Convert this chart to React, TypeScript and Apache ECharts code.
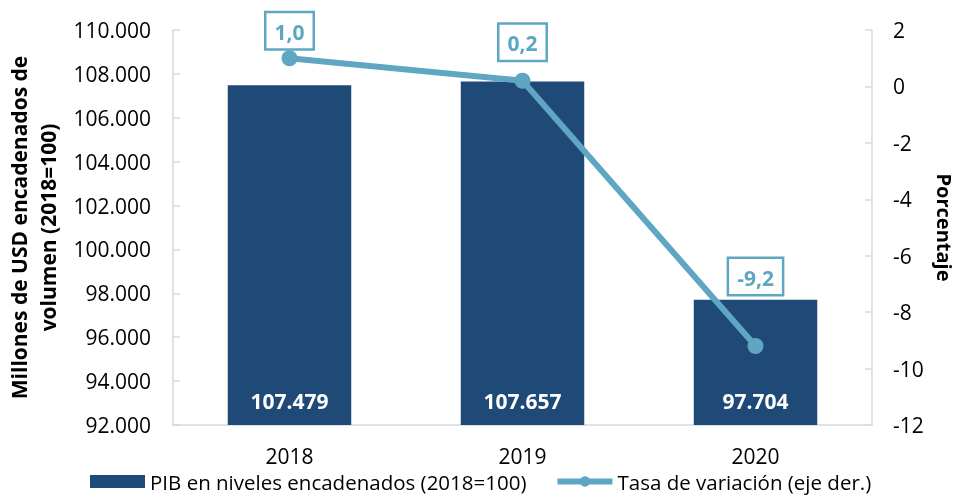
import React, { useEffect, useRef } from "react";
import * as echarts from "echarts";

const years = ["2018", "2019", "2020"];
const pibValues = [107479, 107657, 97704];
const rateValues = [1.0, 0.2, -9.2];
const rateLabelOffsets = [[0, 4], [0, -7], [0, -38]];
const barName = "PIB en niveles encadenados (2018=100)";
const lineName = "Tasa de variación (eje der.)";

const FONT = "'Open Sans', 'Liberation Sans', sans-serif";
const BAR = "#1f4a78";
const LINE = "#5fa6c3";
const AXIS = "#d9d9d9";

const fmtThousands = (v: number) =>
  String(Math.round(v)).replace(/\B(?=(\d{3})+(?!\d))/g, ".");
const fmtDec = (v: number) => v.toFixed(1).replace(".", ",");

export default function App() {
  const ref = useRef<HTMLDivElement>(null);
  useEffect(() => {
    if (!ref.current) return;
    const chart = echarts.init(ref.current, undefined, { renderer: "svg" });
    chart.setOption({
      animation: false,
      textStyle: { fontFamily: FONT },
      grid: {
        left: 173,
        right: 86,
        top: 30,
        bottom: 73,
        containLabel: false,
        outerBoundsMode: "none",
      },
      legend: {
        bottom: 1,
        left: 85,
        itemWidth: 55,
        itemHeight: 13,
        itemGap: 28,
        lineStyle: { width: 6 },
        textStyle: { fontFamily: FONT, fontSize: 20.5, color: "#000" },
        data: [
          { name: barName, icon: "rect" },
          { name: lineName },
        ],
      },
      xAxis: {
        type: "category",
        data: years,
        axisLine: { onZero: false, lineStyle: { color: AXIS, width: 1.5 } },
        axisTick: { inside: true, length: 7, lineStyle: { color: AXIS, width: 1.5 } },
        axisLabel: { color: "#000", fontSize: 21, margin: 20, fontFamily: FONT },
      },
      yAxis: [
        {
          type: "value",
          min: 92000,
          max: 110000,
          interval: 2000,
          name: "Millones de USD encadenados de\nvolumen (2018=100)",
          nameLocation: "middle",
          nameGap: 110,
          nameTextStyle: {
            fontFamily: FONT,
            fontSize: 21,
            fontWeight: "bold",
            color: "#000",
            lineHeight: 29,
          },
          splitLine: { show: false },
          axisLine: { show: true, lineStyle: { color: AXIS, width: 1.5 } },
          axisTick: { show: true, inside: true, length: 7, lineStyle: { color: AXIS, width: 1.5 } },
          axisLabel: {
            color: "#000",
            fontSize: 21,
            margin: 22,
            fontFamily: FONT,
            formatter: (v: number) => fmtThousands(v),
          },
        },
        {
          type: "value",
          min: -12,
          max: 2,
          interval: 2,
          name: "Porcentaje",
          nameLocation: "middle",
          nameRotate: -90,
          nameGap: 62,
          nameTextStyle: {
            fontFamily: FONT,
            fontSize: 20,
            fontWeight: "bold",
            color: "#000",
          },
          splitLine: { show: false },
          axisLine: { show: true, lineStyle: { color: AXIS, width: 1.5 } },
          axisTick: { show: true, inside: true, length: 7, lineStyle: { color: AXIS, width: 1.5 } },
          axisLabel: { color: "#000", fontSize: 21, margin: 21, fontFamily: FONT },
        },
      ],
      series: [
        {
          name: barName,
          type: "bar",
          yAxisIndex: 0,
          data: pibValues,
          barWidth: "53%",
          itemStyle: { color: BAR },
          label: {
            show: true,
            position: "insideBottom",
            distance: 14,
            color: "#fff",
            fontWeight: "bold",
            fontSize: 21,
            fontFamily: FONT,
            formatter: (p: any) => fmtThousands(p.value),
          },
        },
        {
          name: lineName,
          type: "line",
          yAxisIndex: 1,
          data: rateValues.map((v, i) => ({
            value: v,
            label: { offset: rateLabelOffsets[i] },
          })),
          symbol: "circle",
          symbolSize: 16,
          lineStyle: { color: LINE, width: 6 },
          itemStyle: { color: LINE },
          label: {
            show: true,
            position: "top",
            distance: 6,
            color: LINE,
            fontWeight: "bold",
            fontSize: 21,
            fontFamily: FONT,
            backgroundColor: "#fff",
            borderColor: LINE,
            borderWidth: 2.5,
            padding: [8, 8, 6, 8],
            formatter: (p: any) => fmtDec(p.value),
          },
          z: 5,
        },
      ],
    });
    return () => chart.dispose();
  }, []);
  return (
    <div
      ref={ref}
      style={{ position: "fixed", left: 0, top: 0, width: 958, height: 498 }}
    />
  );
}
